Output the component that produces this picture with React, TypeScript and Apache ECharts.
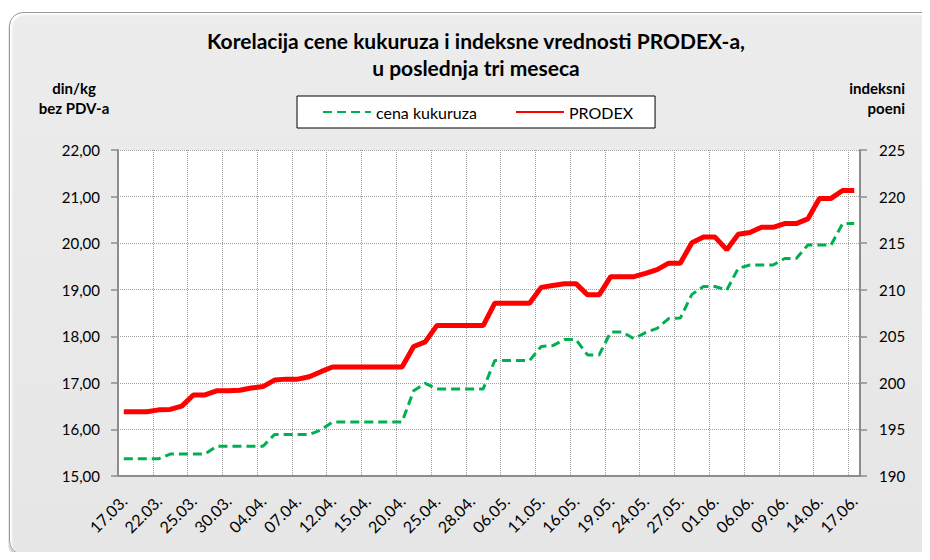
import React, { useEffect, useRef } from 'react';
import * as echarts from 'echarts';

const categories = [
  '17.03.', '18.03.', '21.03.', '22.03.', '23.03.', '24.03.', '25.03.', '28.03.', '29.03.', '30.03.',
  '31.03.', '01.04.', '04.04.', '05.04.', '06.04.', '07.04.', '08.04.', '11.04.', '12.04.', '13.04.',
  '14.04.', '15.04.', '18.04.', '19.04.', '20.04.', '21.04.', '22.04.', '25.04.', '26.04.', '27.04.',
  '28.04.', '04.05.', '05.05.', '06.05.', '09.05.', '10.05.', '11.05.', '12.05.', '13.05.', '16.05.',
  '17.05.', '18.05.', '19.05.', '20.05.', '23.05.', '24.05.', '25.05.', '26.05.', '27.05.', '30.05.',
  '31.05.', '01.06.', '02.06.', '03.06.', '06.06.', '07.06.', '08.06.', '09.06.', '10.06.', '13.06.',
  '14.06.', '15.06.', '16.06.', '17.06.'
];

const cenaKukuruza = [
  15.37, 15.37, 15.37, 15.37, 15.47, 15.47, 15.47, 15.47, 15.64, 15.64,
  15.64, 15.64, 15.64, 15.89, 15.89, 15.89, 15.89, 15.99, 16.16, 16.16,
  16.16, 16.16, 16.16, 16.16, 16.16, 16.83, 16.99, 16.87, 16.87, 16.87,
  16.87, 16.87, 17.48, 17.48, 17.48, 17.48, 17.78, 17.80, 17.93, 17.93,
  17.60, 17.60, 18.09, 18.09, 17.95, 18.08, 18.17, 18.38, 18.39, 18.90,
  19.07, 19.07, 18.99, 19.46, 19.53, 19.53, 19.53, 19.67, 19.67, 19.96,
  19.96, 19.96, 20.42, 20.42
];

const prodex = [
  196.9, 196.9, 196.9, 197.1, 197.15, 197.5, 198.7, 198.7, 199.15, 199.15,
  199.2, 199.45, 199.6, 200.3, 200.4, 200.4, 200.65, 201.2, 201.7, 201.7,
  201.7, 201.7, 201.7, 201.7, 201.7, 203.9, 204.4, 206.15, 206.15, 206.15,
  206.15, 206.15, 208.55, 208.55, 208.55, 208.55, 210.25, 210.45, 210.65, 210.65,
  209.45, 209.45, 211.4, 211.4, 211.4, 211.75, 212.15, 212.85, 212.85, 215.05,
  215.65, 215.65, 214.3, 215.95, 216.15, 216.7, 216.7, 217.1, 217.1, 217.6,
  219.8, 219.8, 220.65, 220.65
];

const seriesNames = ['cena kukuruza', 'PRODEX'];
const titleText = 'Korelacija cene kukuruza i indeksne vrednosti PRODEX-a,\nu poslednja tri meseca';
const leftAxisName = 'din/kg\nbez PDV-a';
const rightAxisName = 'indeksni\npoeni';

const FONT = 'Lato';

export default function App() {
  const ref = useRef<HTMLDivElement>(null);

  useEffect(() => {
    const chart = echarts.init(ref.current!, null, { renderer: 'svg' });
    const axisGray = '#8c8c8c';
    chart.setOption({
      animation: false,
      textStyle: { fontFamily: FONT },
      title: {
        text: titleText,
        left: 476,
        textAlign: 'center',
        top: 27,
        padding: 0,
        textStyle: { fontSize: 21, fontWeight: 'bold', color: '#000', lineHeight: 27, fontFamily: FONT }
      },
      legend: {
        data: seriesNames,
        left: 297,
        top: 96,
        itemWidth: 48,
        itemHeight: 12,
        itemGap: 38,
        padding: [8, 22, 8, 25],
        borderColor: '#000',
        borderWidth: 1,
        backgroundColor: '#fff',
        itemStyle: { opacity: 0 },
        textStyle: { fontSize: 16, color: '#000', fontFamily: FONT }
      },
      graphic: [
        {
          type: 'text',
          x: 74,
          y: 78,
          style: {
            text: leftAxisName,
            align: 'center',
            verticalAlign: 'top',
            fontSize: 15,
            fontWeight: 'bold',
            fontFamily: FONT,
            lineHeight: 20,
            fill: '#000'
          }
        },
        {
          type: 'text',
          x: 905,
          y: 78,
          style: {
            text: rightAxisName,
            align: 'right',
            verticalAlign: 'top',
            fontSize: 15,
            fontWeight: 'bold',
            fontFamily: FONT,
            lineHeight: 20,
            fill: '#000'
          }
        }
      ],
      grid: {
        left: 118,
        right: 70,
        top: 150,
        bottom: 84,
        show: true,
        backgroundColor: '#fff',
        borderWidth: 0
      },
      xAxis: {
        type: 'category',
        data: categories,
        boundaryGap: true,
        axisLine: { lineStyle: { color: axisGray, width: 2 } },
        axisTick: { interval: 2, length: 7, lineStyle: { color: axisGray, width: 1.5 } },
        axisLabel: { interval: 2, rotate: 45, margin: 22, fontSize: 16, color: '#000', fontFamily: FONT },
        splitLine: { show: true, interval: 2, lineStyle: { color: '#a0a0a0', type: 'dotted', width: 1 } }
      },
      yAxis: [
        {
          type: 'value',
          min: 15,
          max: 22,
          interval: 1,
          position: 'left',
          axisLine: { show: true, lineStyle: { color: axisGray, width: 2 } },
          axisTick: { show: true, length: 7, lineStyle: { color: axisGray, width: 1.5 } },
          axisLabel: {
            formatter: (v: number) => v.toFixed(2).replace('.', ','),
            fontSize: 15,
            color: '#000',
            margin: 18,
            fontFamily: FONT
          },
          splitLine: { show: true, lineStyle: { color: '#a0a0a0', type: 'dotted', width: 1 } }
        },
        {
          type: 'value',
          min: 190,
          max: 225,
          interval: 5,
          position: 'right',
          axisLine: { show: true, lineStyle: { color: axisGray, width: 2 } },
          axisTick: { show: true, length: 7, lineStyle: { color: axisGray, width: 1.5 } },
          axisLabel: { fontSize: 15, color: '#000', margin: 19, fontFamily: FONT },
          splitLine: { show: false }
        }
      ],
      series: [
        {
          name: seriesNames[0],
          type: 'line',
          data: cenaKukuruza,
          yAxisIndex: 0,
          symbol: 'none',
          lineStyle: { color: '#00b050', width: 3, type: [9, 5] },
          itemStyle: { color: '#00b050' }
        },
        {
          name: seriesNames[1],
          type: 'line',
          data: prodex,
          yAxisIndex: 1,
          symbol: 'none',
          lineStyle: { color: '#ff0000', width: 5 },
          itemStyle: { color: '#ff0000' }
        }
      ]
    });
    return () => chart.dispose();
  }, []);

  return (
    <div style={{ position: 'relative', width: 930, height: 560, margin: -8, overflow: 'hidden', background: '#fff' }}>
      <div
        style={{
          position: 'absolute',
          left: 9,
          top: 12,
          width: 960,
          height: 541,
          border: '1.5px solid #9a9a9a',
          borderRadius: 14,
          background: 'linear-gradient(180deg, #ececec 0%, #e6e6e6 100%)',
          boxShadow: 'inset 2px 2px 2px #ffffff, 0 3px 3px rgba(0,0,0,0.25)'
        }}
      />
      <div ref={ref} style={{ position: 'absolute', left: 0, top: 0, width: 930, height: 560 }} />
    </div>
  );
}
